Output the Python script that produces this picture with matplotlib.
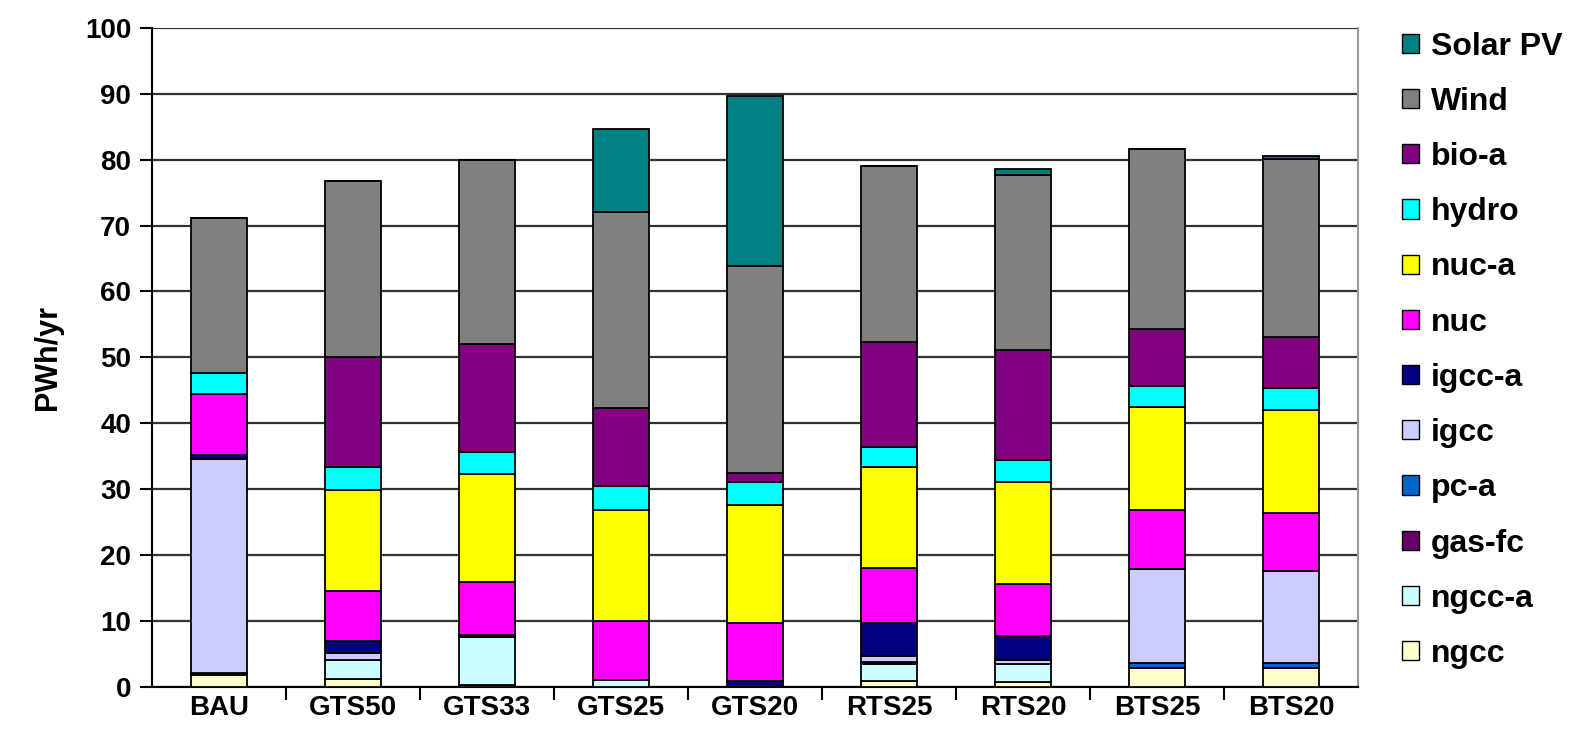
import numpy as np
import matplotlib
matplotlib.use('Agg')
import matplotlib.pyplot as plt
from matplotlib.patches import Patch

plt.rcParams['font.family'] = ['Liberation Sans', 'DejaVu Sans']
plt.rcParams['font.weight'] = 'bold'

scenarios = ['BAU', 'GTS50', 'GTS33', 'GTS25', 'GTS20', 'RTS25', 'RTS20', 'BTS25', 'BTS20']

# stacked bottom to top, PWh/yr
ngcc    = [1.8, 1.1, 0.2, 0.0, 0.0, 0.9, 0.7, 2.9, 2.9]
ngcc_a  = [0.0, 2.9, 7.4, 1.0, 0.0, 2.6, 2.7, 0.0, 0.0]
gas_fc  = [0.3, 0.0, 0.3, 0.0, 0.0, 0.3, 0.0, 0.0, 0.0]
pc_a    = [0.0, 0.1, 0.0, 0.0, 0.0, 0.0, 0.0, 0.7, 0.7]
igcc    = [32.5, 1.0, 0.0, 0.0, 0.0, 0.8, 0.6, 14.2, 14.0]
igcc_a  = [0.5, 1.8, 0.0, 0.0, 0.8, 5.1, 3.7, 0.0, 0.0]
nuc     = [9.4, 7.7, 8.0, 9.0, 8.8, 8.3, 7.9, 9.0, 8.7]
nuc_a   = [0.0, 15.2, 16.4, 16.8, 18.0, 15.4, 15.5, 15.7, 15.7]
hydro   = [3.1, 3.6, 3.3, 3.6, 3.5, 3.0, 3.3, 3.1, 3.3]
bio_a   = [0.0, 16.7, 16.4, 11.9, 1.3, 15.9, 16.7, 8.7, 7.8]
wind    = [23.5, 26.6, 27.9, 29.7, 31.5, 26.8, 26.6, 27.3, 27.0]
solar   = [0.0, 0.0, 0.0, 12.6, 25.8, 0.0, 0.9, 0.0, 0.5]

series = [
    ('ngcc', ngcc, '#FFFFCC'),
    ('ngcc-a', ngcc_a, '#CCFFFF'),
    ('gas-fc', gas_fc, '#660066'),
    ('pc-a', pc_a, '#0066CC'),
    ('igcc', igcc, '#CCCCFF'),
    ('igcc-a', igcc_a, '#000080'),
    ('nuc', nuc, '#FF00FF'),
    ('nuc-a', nuc_a, '#FFFF00'),
    ('hydro', hydro, '#00FFFF'),
    ('bio-a', bio_a, '#800080'),
    ('Wind', wind, '#808080'),
    ('Solar PV', solar, '#008080'),
]

fig = plt.figure(figsize=(15.75, 7.49), dpi=100)
ax = fig.add_axes([0.0965, 0.0832, 0.7657, 0.8794])

x = np.arange(len(scenarios))
bottom = np.zeros(len(scenarios))
for name, vals, col in series:
    vals = np.array(vals)
    ax.bar(x, vals, 0.42, bottom=bottom, color=col, edgecolor='black',
           linewidth=1.3, zorder=3)
    bottom += vals

ax.set_ylim(0, 100)
ax.set_xlim(-0.5, len(scenarios) - 0.5)
ax.set_yticks(np.arange(0, 101, 10))
ax.yaxis.grid(True, color='#333333', linewidth=1.6, zorder=0)
ax.set_axisbelow(True)

ax.set_xticks(x)
ax.set_xticklabels(scenarios, fontsize=20, fontweight='bold')
ax.tick_params(axis='x', which='major', length=0, pad=6)
ax.set_xticks(np.arange(0.5, len(scenarios) - 0.5, 1), minor=True)
ax.tick_params(axis='x', which='minor', length=9, width=1.5, direction='out')
ax.tick_params(axis='y', labelsize=20, length=9, width=1.5, direction='out', pad=6)
for lbl in ax.get_yticklabels():
    lbl.set_fontweight('bold')

ax.spines['left'].set_color('black')
ax.spines['left'].set_linewidth(1.5)
ax.spines['bottom'].set_color('black')
ax.spines['bottom'].set_linewidth(1.5)
ax.spines['top'].set_visible(False)
ax.spines['right'].set_color('#999999')
ax.spines['right'].set_linewidth(1.5)

ax.set_ylabel('PWh/yr', fontsize=22, fontweight='bold', labelpad=16)

handles = [Patch(facecolor=c, edgecolor='black', linewidth=1.0) for _, _, c in series][::-1]
labels = [n for n, _, _ in series][::-1]
fig.legend(handles, labels, loc='upper left', bbox_to_anchor=(0.882, 0.975),
           frameon=False, fontsize=23, handlelength=0.55, handleheight=0.55,
           handletextpad=0.35, labelspacing=0.79, borderaxespad=0)

fig.savefig('out.png', dpi=100)
